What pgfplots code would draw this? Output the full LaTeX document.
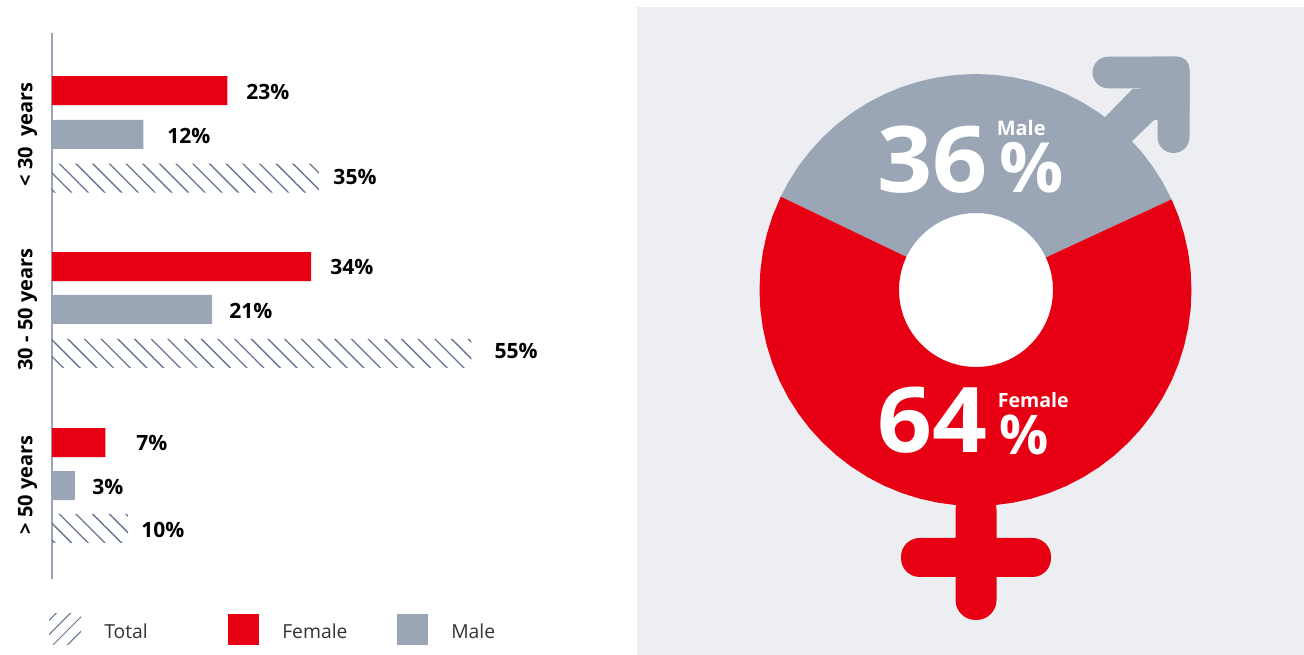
\documentclass[border=0pt]{standalone}
\usepackage{graphicx}
\usepackage{fontspec}
\setmainfont{Open Sans}
\usepackage{pgfplots}
\pgfplotsset{compat=1.18}
\usepgfplotslibrary{polar}
\usetikzlibrary{patterns.meta}
\definecolor{brandred}{HTML}{E70013}
\definecolor{slategrey}{HTML}{9AA5B5}
\definecolor{hatchline}{HTML}{66748F}
\definecolor{panel}{HTML}{ECEEF2}
\begin{document}
\begin{tikzpicture}[x=0.75pt,y=0.75pt]
\path (0,0) rectangle (1304,655);
% backdrop of the gender panel
\fill[panel] (637,0) rectangle (1304,648);

% age groups: horizontal bars
\begin{axis}[
  at={(39pt,466.5pt)}, anchor=north west,
  scale only axis, width=366pt, height=409.5pt,
  xmin=0, xmax=64, ymin=-1.313, ymax=11.153, y dir=reverse,
  axis x line=none, axis y line=left,
  axis line style={-, draw=slategrey, line width=1.2pt},
  ytick={1,5,9},
  yticklabels={{< 30\ \ years},{30 - 50 years},{> 50 years}},
  major tick length=0pt,
  yticklabel style={rotate=90, anchor=south, yshift=7.5pt, font=\fontsize{15}{15}\selectfont\bfseries, text=black},
  clip=false,
]
\addplot[xbar, bar shift=0pt, bar width=21.75pt, fill=brandred, draw=none]
  coordinates {(23,0) (34,4.02) (7,8.04)};
\addplot[xbar, bar shift=0pt, bar width=21.75pt, fill=slategrey, draw=none]
  coordinates {(12,1) (21,5) (3,9.02)};
\addplot[xbar, bar shift=0pt, bar width=21.75pt, draw=none,
  pattern={Lines[angle=-45, distance=8.85pt, line width=1pt]}, pattern color=hatchline]
  coordinates {(35,2) (55,6) (10,10)};
\begin{scope}[every node/.style={anchor=west, inner sep=0pt, font=\fontsize{15.8}{15.8}\selectfont\bfseries, text=black}]
\node at (axis cs:25.46,0.04) {23\%};
\node at (axis cs:15.09,1.04) {12\%};
\node at (axis cs:36.88,1.98) {35\%};
\node at (axis cs:36.48,4.04) {34\%};
\node at (axis cs:23.23,5.04) {21\%};
\node at (axis cs:58,5.95) {55\%};
\node at (axis cs:11.02,8.04) {7\%};
\node at (axis cs:5.25,9.06) {3\%};
\node at (axis cs:11.68,10.03) {10\%};
\end{scope}
\end{axis}

% key
\fill[pattern={Lines[angle=45, distance=7.6pt, line width=0.75pt]}, pattern color=hatchline] (49,10) rectangle (81,41);
\fill[brandred] (228,10) rectangle (259,41);
\fill[slategrey] (397,10) rectangle (428,41);
\begin{scope}[every node/.style={anchor=west, inner sep=0pt, text=black!80, font=\fontsize{14.5}{14.5}\selectfont}]
\node at (104,24) {Total};
\node at (282,24) {Female};
\node at (451,24) {Male};
\end{scope}

% gender split: ring with the two symbols, origin at the ring's centre
\begin{axis}[
  at={(477.75pt,0pt)}, anchor=south west,
  scale only axis, width=500.25pt, height=486pt,
  xmin=-338.5, xmax=328.5, ymin=-365, ymax=283,
  hide axis, clip=false,
]
% male arrow: shaft, head bar, head arm, and the tighter outer corner
\fill[slategrey] (70,100) -- (130,173.3) -- (157,201) -- (182,201) -- (182,173.3) -- (157.7,150) -- (110,100) -- cycle;
\fill[slategrey, rounded corners=11.8pt] (117,201.7) rectangle (214,233.3);
\fill[slategrey, rounded corners=11.9pt] (182,137) rectangle (214,233.3);
\fill[slategrey, rounded corners=9pt] (165,170) rectangle (214,233.3);
% female cross
\fill[brandred, rounded corners=15pt] (-20,-200) -- (-20,-330) -- (21,-330) -- (21,-200) -- cycle;
\fill[brandred, rounded corners=14pt] (-74.5,-248) rectangle (75.5,-287);
% ring segments
\addplot[fill=slategrey, draw=none, data cs=polar] coordinates {
  (24.8,216) (30,216) (35,216) (40,216) (45,216) (50,216) (55,216) (60,216) (65,216)
  (70,216) (75,216) (80,216) (85,216) (90,216) (95,216) (100,216) (105,216) (110,216)
  (115,216) (120,216) (125,216) (130,216) (135,216) (140,216) (145,216) (150,216)
  (154.4,216) (154.4,0)} -- cycle;
\addplot[fill=brandred, draw=none, data cs=polar] coordinates {
  (154.4,216) (160,216) (165,216) (170,216) (175,216) (180,216) (185,216) (190,216)
  (195,216) (200,216) (205,216) (210,216) (215,216) (220,216) (225,216) (230,216)
  (235,216) (240,216) (245,216) (250,216) (255,216) (260,216) (265,216) (270,216)
  (275,216) (280,216) (285,216) (290,216) (295,216) (300,216) (305,216) (310,216)
  (315,216) (320,216) (325,216) (330,216) (335,216) (340,216) (345,216) (350,216)
  (355,216) (360,216) (365,216) (370,216) (375,216) (380,216) (384.8,216) (384.8,0)} -- cycle;
\addplot[only marks, mark=*, mark size=57.5pt, mark options={fill=white, draw=white, line width=0.3pt}]
  coordinates {(0.5,0)};
\begin{scope}[every node/.style={inner sep=0pt, text=white}]
\node[anchor=base west, font=\fontsize{69}{69}\selectfont\bfseries] at (-98,97) {\scalebox{1.05}[1]{36}};
\node[anchor=base west, font=\fontsize{52}{52}\selectfont\bfseries] at (23.5,97) {\scalebox{1.03}[1]{\%}};
\node[anchor=base west, font=\fontsize{15}{15}\selectfont\bfseries] at (21,154) {Male};
\node[anchor=base west, font=\fontsize{68}{68}\selectfont\bfseries] at (-98,-163) {\scalebox{1.06}[1]{64}};
\node[anchor=base west, font=\fontsize{41}{41}\selectfont\bfseries] at (24,-165) {\%};
\node[anchor=base west, font=\fontsize{14.7}{14.7}\selectfont\bfseries] at (22,-118) {Female};
\end{scope}
\end{axis}
\end{tikzpicture}
\end{document}
